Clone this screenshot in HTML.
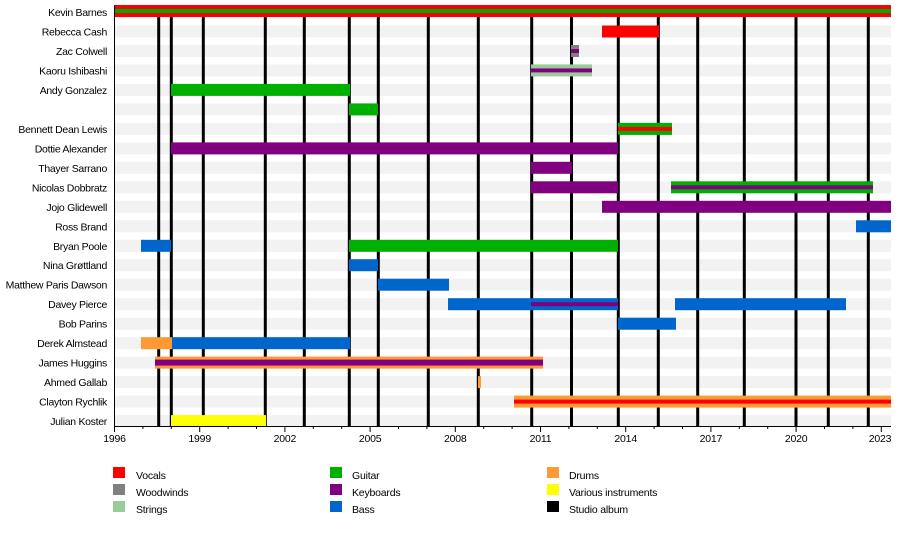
<!DOCTYPE html>
<html><head><meta charset="utf-8"><style>
html,body{margin:0;padding:0;background:#fff;}
svg{display:block;font-family:"Liberation Sans",sans-serif;}
</style></head><body>
<svg width="900" height="535" viewBox="0 0 900 535" xmlns="http://www.w3.org/2000/svg">
<g fill="#f2f2f2">
<rect x="114" y="6" width="777" height="12"/>
<rect x="114" y="25.5" width="777" height="12"/>
<rect x="114" y="45" width="777" height="12"/>
<rect x="114" y="64.4" width="777" height="12"/>
<rect x="114" y="83.9" width="777" height="12"/>
<rect x="114" y="103.4" width="777" height="12"/>
<rect x="114" y="122.9" width="777" height="12"/>
<rect x="114" y="142.4" width="777" height="12"/>
<rect x="114" y="161.8" width="777" height="12"/>
<rect x="114" y="181.3" width="777" height="12"/>
<rect x="114" y="200.8" width="777" height="12"/>
<rect x="114" y="220.3" width="777" height="12"/>
<rect x="114" y="239.8" width="777" height="12"/>
<rect x="114" y="259.2" width="777" height="12"/>
<rect x="114" y="278.7" width="777" height="12"/>
<rect x="114" y="298.2" width="777" height="12"/>
<rect x="114" y="317.7" width="777" height="12"/>
<rect x="114" y="337.2" width="777" height="12"/>
<rect x="114" y="356.6" width="777" height="12"/>
<rect x="114" y="376.1" width="777" height="12"/>
<rect x="114" y="395.6" width="777" height="12"/>
<rect x="114" y="415.1" width="777" height="12"/>
</g>
<g stroke="#000" stroke-width="3">
<line x1="158.7" y1="17" x2="158.7" y2="426"/>
<line x1="171.3" y1="17" x2="171.3" y2="426"/>
<line x1="203.3" y1="17" x2="203.3" y2="426"/>
<line x1="265.3" y1="17" x2="265.3" y2="426"/>
<line x1="304.3" y1="17" x2="304.3" y2="426"/>
<line x1="349.3" y1="17" x2="349.3" y2="426"/>
<line x1="378.3" y1="17" x2="378.3" y2="426"/>
<line x1="428.3" y1="17" x2="428.3" y2="426"/>
<line x1="478.3" y1="17" x2="478.3" y2="426"/>
<line x1="531.7" y1="17" x2="531.7" y2="426"/>
<line x1="571.5" y1="17" x2="571.5" y2="426"/>
<line x1="618.3" y1="17" x2="618.3" y2="426"/>
<line x1="658.3" y1="17" x2="658.3" y2="426"/>
<line x1="697.7" y1="17" x2="697.7" y2="426"/>
<line x1="744.3" y1="17" x2="744.3" y2="426"/>
<line x1="796" y1="17" x2="796" y2="426"/>
<line x1="828.3" y1="17" x2="828.3" y2="426"/>
<line x1="868.3" y1="17" x2="868.3" y2="426"/>
</g>
<rect x="114" y="5" width="777" height="12" fill="#f00"/>
<rect x="114" y="9" width="777" height="4" fill="#00aa00"/>
<rect x="602" y="25.5" width="57" height="12" fill="#f00"/>
<rect x="571" y="45" width="8" height="12" fill="#808080"/>
<rect x="571" y="49" width="8" height="4" fill="#800080"/>
<rect x="531" y="64.4" width="61" height="12" fill="#99cc99"/>
<rect x="531" y="68.4" width="61" height="4" fill="#800080"/>
<rect x="171" y="83.9" width="179" height="12" fill="#00b000"/>
<rect x="349" y="103.4" width="29" height="12" fill="#00b000"/>
<rect x="618" y="122.9" width="54" height="12" fill="#00b000"/>
<rect x="618" y="126.9" width="54" height="4" fill="#f00"/>
<rect x="171" y="142.4" width="447" height="12" fill="#800080"/>
<rect x="531" y="161.8" width="41" height="12" fill="#800080"/>
<rect x="531" y="181.3" width="87" height="12" fill="#800080"/>
<rect x="671" y="181.3" width="202" height="12" fill="#00b000"/>
<rect x="671" y="185.3" width="202" height="4" fill="#800080"/>
<rect x="602" y="200.8" width="289" height="12" fill="#800080"/>
<rect x="856" y="220.3" width="35" height="12" fill="#0066cc"/>
<rect x="141" y="239.8" width="30" height="12" fill="#0066cc"/>
<rect x="349" y="239.8" width="269" height="12" fill="#00b000"/>
<rect x="349" y="259.2" width="29" height="12" fill="#0066cc"/>
<rect x="378" y="278.7" width="71" height="12" fill="#0066cc"/>
<rect x="448" y="298.2" width="170" height="12" fill="#0066cc"/>
<rect x="531" y="302.2" width="87" height="4" fill="#800080"/>
<rect x="675" y="298.2" width="171" height="12" fill="#0066cc"/>
<rect x="618" y="317.7" width="58" height="12" fill="#0066cc"/>
<rect x="141" y="337.2" width="31" height="12" fill="#ff9933"/>
<rect x="172" y="337.2" width="178" height="12" fill="#0066cc"/>
<rect x="155" y="356.6" width="388" height="12" fill="#ff9933"/>
<rect x="155" y="359.6" width="388" height="6" fill="#800080"/>
<rect x="478" y="376.1" width="3" height="12" fill="#ff9933"/>
<rect x="514" y="395.6" width="377" height="12" fill="#ff9933"/>
<rect x="514" y="399.6" width="377" height="4" fill="#f00"/>
<rect x="171" y="415.1" width="95" height="12" fill="#ffff00"/>
<line x1="114.5" y1="5" x2="114.5" y2="426" stroke="#000" stroke-width="1"/>
<line x1="114" y1="426.5" x2="891" y2="426.5" stroke="#000" stroke-width="1"/>
<g stroke="#000" stroke-width="1">
<line x1="114.5" y1="426" x2="114.5" y2="432"/><line x1="142.9" y1="426" x2="142.9" y2="429"/><line x1="171.3" y1="426" x2="171.3" y2="429"/>
<line x1="199.7" y1="426" x2="199.7" y2="432"/><line x1="228.1" y1="426" x2="228.1" y2="429"/><line x1="256.5" y1="426" x2="256.5" y2="429"/>
<line x1="284.9" y1="426" x2="284.9" y2="432"/><line x1="313.3" y1="426" x2="313.3" y2="429"/><line x1="341.7" y1="426" x2="341.7" y2="429"/>
<line x1="370.1" y1="426" x2="370.1" y2="432"/><line x1="398.5" y1="426" x2="398.5" y2="429"/><line x1="426.9" y1="426" x2="426.9" y2="429"/>
<line x1="455.3" y1="426" x2="455.3" y2="432"/><line x1="483.7" y1="426" x2="483.7" y2="429"/><line x1="512.1" y1="426" x2="512.1" y2="429"/>
<line x1="540.5" y1="426" x2="540.5" y2="432"/><line x1="568.9" y1="426" x2="568.9" y2="429"/><line x1="597.3" y1="426" x2="597.3" y2="429"/>
<line x1="625.7" y1="426" x2="625.7" y2="432"/><line x1="654.1" y1="426" x2="654.1" y2="429"/><line x1="682.5" y1="426" x2="682.5" y2="429"/>
<line x1="710.9" y1="426" x2="710.9" y2="432"/><line x1="739.3" y1="426" x2="739.3" y2="429"/><line x1="767.7" y1="426" x2="767.7" y2="429"/>
<line x1="796.1" y1="426" x2="796.1" y2="432"/><line x1="824.5" y1="426" x2="824.5" y2="429"/><line x1="852.9" y1="426" x2="852.9" y2="429"/>
<line x1="881.3" y1="426" x2="881.3" y2="432"/>
</g>
<g font-size="10.5" fill="#000" text-anchor="middle" letter-spacing="-0.2">
<text x="114.5" y="442">1996</text><text x="199.7" y="442">1999</text><text x="284.9" y="442">2002</text>
<text x="370.1" y="442">2005</text><text x="455.3" y="442">2008</text><text x="540.5" y="442">2011</text>
<text x="625.7" y="442">2014</text><text x="710.9" y="442">2017</text><text x="796.1" y="442">2020</text>
<text x="880" y="442">2023</text>
</g>
<g font-size="10.5" fill="#000" text-anchor="end" letter-spacing="-0.3">
<text x="107" y="16">Kevin Barnes</text>
<text x="107" y="35.5">Rebecca Cash</text>
<text x="107" y="55">Zac Colwell</text>
<text x="107" y="74.4">Kaoru Ishibashi</text>
<text x="107" y="93.9">Andy Gonzalez</text>
<text x="107" y="132.9">Bennett Dean Lewis</text>
<text x="107" y="152.4">Dottie Alexander</text>
<text x="107" y="171.8">Thayer Sarrano</text>
<text x="107" y="191.3">Nicolas Dobbratz</text>
<text x="107" y="210.8">Jojo Glidewell</text>
<text x="107" y="230.3">Ross Brand</text>
<text x="107" y="249.8">Bryan Poole</text>
<text x="107" y="269.2">Nina Grøttland</text>
<text x="107" y="288.7">Matthew Paris Dawson</text>
<text x="107" y="308.2">Davey Pierce</text>
<text x="107" y="327.7">Bob Parins</text>
<text x="107" y="347.2">Derek Almstead</text>
<text x="107" y="366.6">James Huggins</text>
<text x="107" y="386.1">Ahmed Gallab</text>
<text x="107" y="405.6">Clayton Rychlik</text>
<text x="107" y="425.1">Julian Koster</text>
</g>
<rect x="113" y="467" width="12" height="11" fill="#f00"/>
<rect x="113" y="484" width="12" height="11" fill="#808080"/>
<rect x="113" y="501" width="12" height="11" fill="#99cc99"/>
<rect x="330" y="467" width="12" height="11" fill="#00b000"/>
<rect x="330" y="484" width="12" height="11" fill="#800080"/>
<rect x="330" y="501" width="12" height="11" fill="#0066cc"/>
<rect x="547" y="467" width="12" height="11" fill="#ff9933"/>
<rect x="547" y="484" width="12" height="11" fill="#ffff00"/>
<rect x="547" y="501" width="12" height="11" fill="#000"/>
<g font-size="10.5" fill="#000" letter-spacing="-0.2">
<text x="136" y="479">Vocals</text><text x="136" y="496">Woodwinds</text><text x="136" y="513">Strings</text>
<text x="352" y="479">Guitar</text><text x="352" y="496">Keyboards</text><text x="352" y="513">Bass</text>
<text x="569" y="479">Drums</text><text x="569" y="496">Various instruments</text><text x="569" y="513">Studio album</text>
</g>
</svg>
</body></html>
